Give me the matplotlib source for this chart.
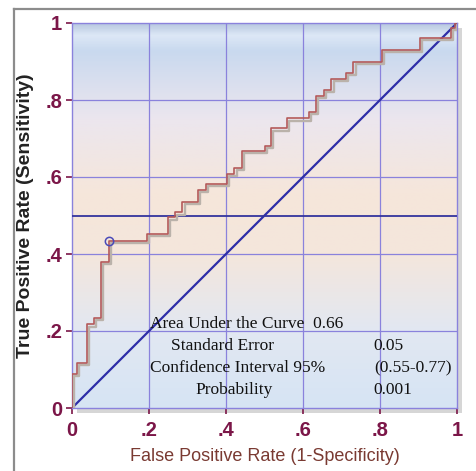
import numpy as np
import matplotlib
matplotlib.use('Agg')
import matplotlib.pyplot as plt
import matplotlib.transforms as mtransforms
from matplotlib.patches import Rectangle
from matplotlib.lines import Line2D
from matplotlib.colors import LinearSegmentedColormap

plt.rcParams['font.family'] = ['Liberation Sans', 'DejaVu Sans']

# ROC curve corners (steps-post)
fpr = [0, 0, 0.012, 0.038, 0.058, 0.075, 0.096, 0.194, 0.25, 0.268, 0.287, 0.326,
       0.348, 0.403, 0.422, 0.441, 0.501, 0.517, 0.558, 0.616, 0.634, 0.655, 0.674,
       0.711, 0.731, 0.804, 0.904, 0.984, 0.995, 1.0]
tpr = [0, 0.088, 0.116, 0.217, 0.233, 0.379, 0.435, 0.452, 0.495, 0.508, 0.536, 0.566,
       0.581, 0.608, 0.623, 0.668, 0.681, 0.726, 0.752, 0.768, 0.810, 0.826, 0.855,
       0.871, 0.90, 0.930, 0.960, 0.986, 1.0, 1.0]
cut_point = (0.097, 0.435)
ref_level = 0.5

ticks = [0, 0.2, 0.4, 0.6, 0.8, 1.0]
tick_labels = ['0', '.2', '.4', '.6', '.8', '1']

stat_names = ['Standard Error', 'Confidence Interval 95%', 'Probability']
stat_values = ['0.05', '(0.55-0.77)', '0.001']
auc_text = 'Area Under the Curve  0.66'

W, H = 476, 471
fig = plt.figure(figsize=(W / 100, H / 100), dpi=100)
fig.patch.set_facecolor('white')

ax_l, ax_b, ax_w, ax_h = 72, 471 - 408, 385, 385
ax = fig.add_axes([ax_l / W, ax_b / H, ax_w / W, ax_h / H])

# drop shadow behind plot area
sh = Rectangle(((ax_l + 5) / W, (ax_b - 5) / H), ax_w / W, ax_h / H,
               transform=fig.transFigure, facecolor='#d6d6d6', edgecolor='none', zorder=-2)
fig.patches.append(sh)

# outer frame (top and left)
fig.lines.append(Line2D([14 / W, 1], [(H - 9) / H, (H - 9) / H], transform=fig.transFigure,
                        color='#8c8c8c', lw=1.6))
fig.lines.append(Line2D([14 / W, 14 / W], [0, (H - 9) / H], transform=fig.transFigure,
                        color='#8c8c8c', lw=1.6))

# background gradient
cmap = LinearSegmentedColormap.from_list('bg', [
    (0.0, '#d6e4f4'), (0.2, '#e2e8f2'), (0.4, '#f4e6dc'), (0.55, '#f6e6da'),
    (0.75, '#ece6ee'), (0.93, '#c9d9ef'), (0.97, '#dde8f6'), (1.0, '#b8c8e0')])
grad = np.linspace(0, 1, 256).reshape(-1, 1)
ax.imshow(grad, extent=[0, 1, 0, 1], origin='lower', aspect='auto', cmap=cmap, zorder=0)

ax.set_xlim(0, 1)
ax.set_ylim(0, 1)

# grid
for t in ticks[1:-1]:
    ax.axvline(t, color='#8a82dc', lw=0.9, zorder=1)
    ax.axhline(t, color='#8a82dc', lw=0.9, zorder=1)

# reference lines
ax.plot([0, 1], [0, 1], color='#2e2ea8', lw=1.6, zorder=3)
ax.axhline(ref_level, color='#34349e', lw=1.3, zorder=3)

# curve shadow + curve
shadow_tr = mtransforms.offset_copy(ax.transData, fig=fig, x=1.5, y=-1.5, units='points')
ax.plot(fpr, tpr, drawstyle='steps-post', color='#bab2aa', lw=1.7, transform=shadow_tr, zorder=4)
ax.plot(fpr, tpr, drawstyle='steps-post', color='#b45a5a', lw=1.2, zorder=5)
ax.plot(*cut_point, marker='o', ms=6, mfc='none', mec='#4a4ab8', mew=1.1, zorder=6)

# stats text
tfont = dict(family=['Liberation Serif', 'DejaVu Serif'], fontsize=12.5, color='#111111')
ax.text(0.203, 0.218, auc_text, ha='left', va='center', zorder=7, **tfont)
name_x = [0.392, 0.431, 0.42]
rows_y = [0.161, 0.104, 0.047]
for nm, val, nx, ry in zip(stat_names, stat_values, name_x, rows_y):
    ax.text(nx, ry, nm, ha='center', va='center', zorder=7, **tfont)
    ax.text(0.784, ry, val, ha='left', va='center', zorder=7, **tfont)

# spines and ticks
for s in ax.spines.values():
    s.set_color('#8a82dc')
    s.set_linewidth(1.0)
ax.set_xticks(ticks)
ax.set_yticks(ticks)
ax.set_xticklabels(tick_labels)
ax.set_yticklabels(tick_labels)
ax.tick_params(axis='both', direction='out', length=4, width=1.2, color='#7b1648',
               labelcolor='#7b1648', labelsize=14.5, pad=3)
ax.tick_params(axis='x', pad=5)
for lab in ax.get_xticklabels() + ax.get_yticklabels():
    lab.set_fontweight('bold')

ax.set_xlabel('False Positive Rate (1-Specificity)', fontsize=13, color='#7a3a32')
ax.xaxis.set_label_coords(0.5, -0.104)
ax.set_ylabel('True Positive Rate (Sensitivity)', fontsize=14, color='#222222', fontweight='bold')
ax.yaxis.set_label_coords(-0.099, 0.5)

fig.savefig('out.png', dpi=100)
